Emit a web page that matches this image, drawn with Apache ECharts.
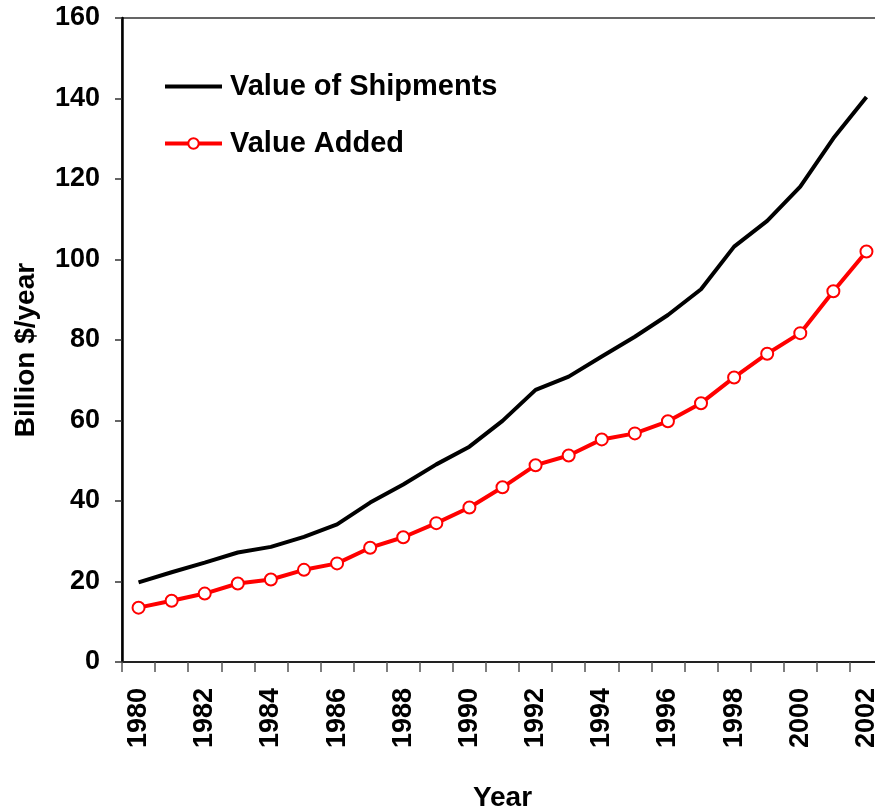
<!DOCTYPE html>
<html>
<head>
<meta charset="utf-8">
<script src="https://cdn.jsdelivr.net/npm/echarts@6/dist/echarts.min.js"></script>
<style>
  html, body { margin: 0; padding: 0; background: #fff; }
  #chart { width: 875px; height: 809px; }
</style>
</head>
<body>
<div id="chart"></div>
<script>
// years on the x axis
var years = ['1980', '1981', '1982', '1983', '1984', '1985', '1986', '1987', '1988', '1989', '1990', '1991',
    '1992', '1993', '1994', '1995', '1996', '1997', '1998', '1999', '2000', '2001', '2002'];

// Value of Shipments (billion $/year)
var shipments = [19.8, 22.3, 24.7, 27.2, 28.6, 31.1, 34.2, 39.6, 44.1, 49.1, 53.5, 59.9,
    67.6, 70.9, 75.9, 80.8, 86.2, 92.6, 103.2, 109.6, 118.1, 130.1, 140.4];

// Value Added (billion $/year)
var valueAdded = [13.5, 15.2, 17.0, 19.5, 20.5, 22.9, 24.5, 28.4, 31.0, 34.5, 38.4, 43.4,
    48.9, 51.3, 55.3, 56.8, 59.8, 64.3, 70.7, 76.6, 81.7, 92.1, 102.0];

var yTicks = [0, 20, 40, 60, 80, 100, 120, 140, 160];

var font = '"Liberation Sans", Arial, sans-serif';

var chart = echarts.init(document.getElementById('chart'));

var option = {
    animation: false,
    backgroundColor: '#fff',
    textStyle: { fontFamily: font },
    grid: {
        left: 122,
        top: 18,
        width: 761,
        height: 644,
        show: true,
        borderColor: '#333',
        borderWidth: 1.5,
        containLabel: false,
        outerBoundsMode: 'none'
    },
    legend: {
        left: 163,
        top: 72,
        padding: 0,
        orient: 'vertical',
        itemWidth: 57,
        itemHeight: 13,
        itemGap: 28,
        data: [
            { name: 'Value of Shipments', itemStyle: { opacity: 0 }, lineStyle: { width: 4 } },
            { name: 'Value Added', lineStyle: { width: 4 } }
        ],
        textStyle: {
            fontFamily: font,
            fontWeight: 'bold',
            fontSize: 29,
            color: '#000',
            padding: [0, 0, 0, 3]
        }
    },
    xAxis: {
        type: 'category',
        data: years,
        boundaryGap: true,
        name: 'Year',
        nameLocation: 'middle',
        nameGap: 122,
        nameTextStyle: { fontFamily: font, fontWeight: 'bold', fontSize: 28, color: '#000' },
        axisLine: { lineStyle: { color: '#222', width: 2 } },
        axisTick: { show: true, length: 10, interval: 0, lineStyle: { color: '#555', width: 1.5 } },
        axisLabel: {
            interval: 1,
            rotate: 90,
            margin: 26,
            fontFamily: font,
            fontWeight: 'bold',
            fontSize: 27,
            color: '#000'
        },
        splitLine: { show: false }
    },
    yAxis: {
        type: 'value',
        min: yTicks[0],
        max: yTicks[yTicks.length - 1],
        interval: 20,
        name: 'Billion $/year',
        nameLocation: 'middle',
        nameGap: 82,
        nameTextStyle: { fontFamily: font, fontWeight: 'bold', fontSize: 28, color: '#000', padding: [0, 20, 0, 0] },
        axisLine: { show: true, lineStyle: { color: '#000', width: 2.5 } },
        axisTick: { show: true, length: 7, lineStyle: { color: '#333', width: 1.5 } },
        axisLabel: {
            margin: 22,
            fontFamily: font,
            fontWeight: 'bold',
            fontSize: 27,
            color: '#000'
        },
        splitLine: { show: false }
    },
    series: [
        {
            name: 'Value of Shipments',
            type: 'line',
            data: shipments,
            symbol: 'none',
            lineStyle: { color: '#000', width: 4 },
            itemStyle: { color: '#000' }
        },
        {
            name: 'Value Added',
            type: 'line',
            data: valueAdded,
            symbol: 'circle',
            symbolSize: 12,
            lineStyle: { color: '#ff0000', width: 4 },
            itemStyle: { color: '#fff', borderColor: '#ff0000', borderWidth: 2 }
        }
    ]
};

chart.setOption(option);
</script>
</body>
</html>
